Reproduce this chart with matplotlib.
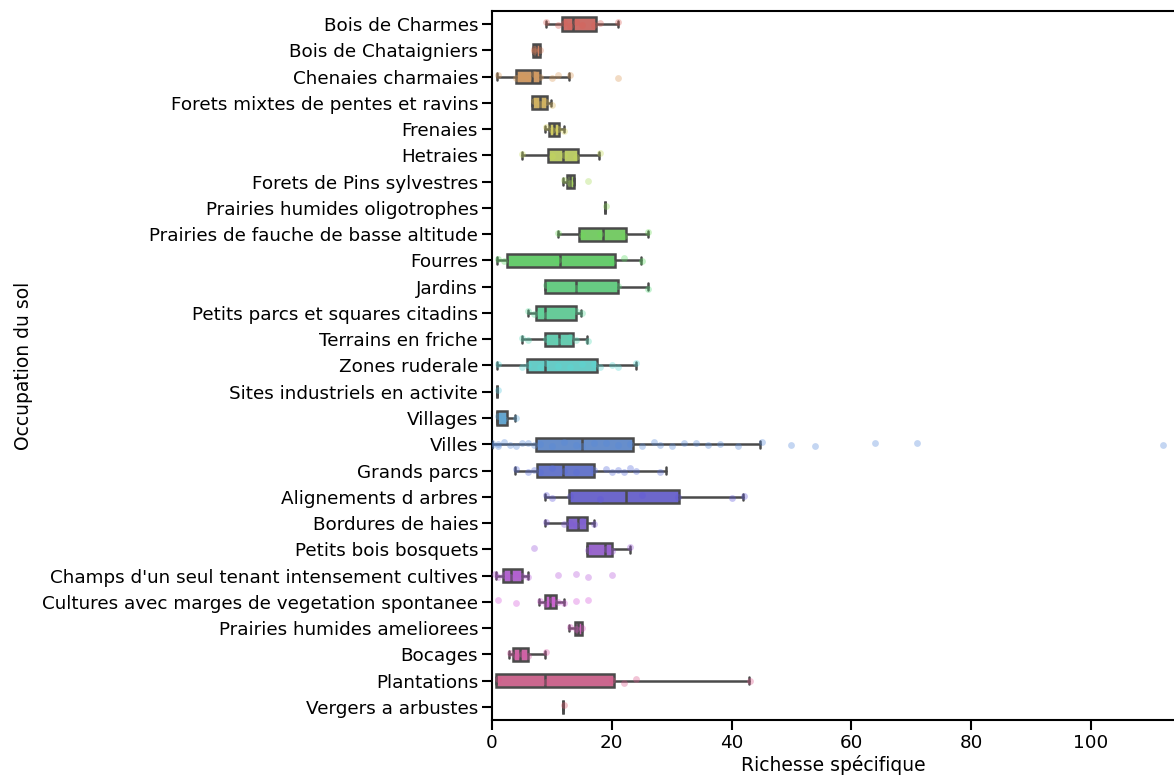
import numpy as np
import matplotlib.pyplot as plt
import seaborn as sns

sns.set_style("ticks")

categories = ["Bois de Charmes", "Bois de Chataigniers", "Chenaies charmaies",
              "Forets mixtes de pentes et ravins", "Frenaies", "Hetraies",
              "Forets de Pins sylvestres", "Prairies humides oligotrophes",
              "Prairies de fauche de basse altitude", "Fourres", "Jardins",
              "Petits parcs et squares citadins", "Terrains en friche",
              "Zones ruderale", "Sites industriels en activite", "Villages",
              "Villes", "Grands parcs", "Alignements d arbres",
              "Bordures de haies", "Petits bois bosquets",
              "Champs d'un seul tenant intensement cultives",
              "Cultures avec marges de vegetation spontanee",
              "Prairies humides ameliorees", "Bocages", "Plantations",
              "Vergers a arbustes"]

# box statistics
whislo = [9, 6.8, 0.8, 6.7, 8.8, 5, 11.9, 18.9, 11, 0.8, 8.8, 6, 5, 0.8, 0.8,
          0.8, 0, 3.9, 8.9, 8.9, 15.8, 0.7, 7.9, 12.9, 2.9, 0.7, 11.9]
q1 = [11.7, 6.8, 4.1, 6.7, 9.6, 9.4, 12.6, 18.9, 14.6, 2.6, 8.8, 7.3, 8.8, 5.8,
      0.8, 0.8, 7.4, 7.5, 12.8, 12.5, 15.8, 1.9, 8.9, 13.9, 3.6, 0.7, 11.9]
med = [13.5, 7.3, 6.7, 8.0, 10.4, 11.9, 13.0, 18.9, 18.5, 11.4, 14.0, 8.9, 11.2,
       8.9, 0.8, 0.8, 15.0, 11.9, 22.4, 14.3, 18.9, 3.2, 9.7, 14.4, 4.7, 8.9, 11.9]
q3 = [17.3, 8.1, 8.1, 9.2, 11.2, 14.3, 13.7, 18.9, 22.3, 20.5, 21.0, 14.1, 13.5,
      17.5, 0.8, 2.5, 23.5, 17.1, 31.3, 15.8, 20.0, 5.1, 10.7, 15.0, 6.0, 20.4, 11.9]
whishi = [21, 8.1, 12.9, 9.9, 12, 17.9, 13.7, 18.9, 26, 24.9, 26, 14.9, 15.9,
          24, 0.8, 3.9, 44.7, 29, 41.9, 17.1, 23, 6.1, 12, 15, 8.9, 42.9, 11.9]

# individual observations visible as points
points = [
    [9, 11, 12, 13, 14, 15, 17, 18, 21],
    [7, 7, 8],
    [1, 4, 5, 6, 7, 8, 10, 11, 13, 21],
    [7, 8, 9, 10],
    [9, 10, 11, 12],
    [5, 10, 12, 14, 18],
    [12, 13, 16],
    [19],
    [11, 15, 18, 22, 26],
    [1, 2, 11, 20, 22, 25],
    [9, 14, 21, 26],
    [6, 7, 8, 9, 14, 15],
    [5, 6, 9, 11, 13, 14, 16],
    [1, 5, 6, 8, 9, 11, 13, 15, 17, 18, 20, 21, 24],
    [1],
    [1, 2, 4],
    [0, 0, 1, 1, 2, 3, 4, 5, 6, 7, 8, 10, 12, 14, 15, 17, 19, 21, 23, 25, 27,
     28, 30, 32, 34, 36, 38, 41, 45, 50, 54, 64, 71, 112],
    [4, 6, 7, 8, 10, 12, 14, 17, 19, 20, 21, 22, 23, 24, 28],
    [9, 10, 13, 18, 25, 31, 40, 42],
    [9, 12, 13, 14, 15, 17],
    [7, 16, 19, 20, 23],
    [0.5, 1, 2, 3, 4, 5, 6, 11, 14, 16, 20],
    [1, 4, 8, 9, 10, 11, 12, 14, 16],
    [13, 14, 15],
    [3, 4, 5, 6, 9],
    [1, 9, 20, 22, 24, 43],
    [12],
]

colors = sns.color_palette("hls", len(categories))
box_colors = [sns.desaturate(c, 0.75) for c in colors]
line_col = "#4a4a4a"

fig = plt.figure(figsize=(11.74, 7.76), dpi=100)
ax = fig.add_axes([0.419, 0.072, 0.5818, 0.914])

stats = []
for i, name in enumerate(categories):
    stats.append(dict(label=name, whislo=whislo[i], q1=q1[i], med=med[i],
                      q3=q3[i], whishi=whishi[i], fliers=[]))

pos = np.arange(len(categories))
bp = ax.bxp(stats, positions=pos, widths=0.5, vert=False, patch_artist=True,
            showfliers=False,
            boxprops=dict(edgecolor=line_col, linewidth=1.8),
            whiskerprops=dict(color=line_col, linewidth=1.8),
            capprops=dict(color=line_col, linewidth=1.8),
            medianprops=dict(color=line_col, linewidth=1.8))
for patch, c in zip(bp["boxes"], box_colors):
    patch.set_facecolor(c)

# small fixed jitter pattern for the points
jit = [-0.06, 0.04, -0.02, 0.07, -0.08, 0.02, 0.05, -0.04]
for i, vals in enumerate(points):
    yy = [i + jit[k % len(jit)] for k in range(len(vals))]
    ax.scatter(vals, yy, s=24, color=colors[i], alpha=0.35, linewidths=0,
               zorder=3)

ax.set_ylim(len(categories) - 0.5, -0.5)
ax.set_xlim(0, 114)
ax.set_yticks(pos)
ax.set_yticklabels(categories)
ax.set_xticks([0, 20, 40, 60, 80, 100])
ax.tick_params(axis="both", labelsize=13.2, length=7, width=1.5,
               colors="black", pad=3)
for s in ["left", "bottom", "top"]:
    ax.spines[s].set_linewidth(1.5)
    ax.spines[s].set_color("black")
ax.spines["right"].set_visible(False)
ax.set_xlabel("Richesse spécifique", fontsize=13.5, color="black", labelpad=2)
ax.set_ylabel("Occupation du sol", fontsize=13.5, color="black")
ax.yaxis.set_label_coords(-0.672, 0.5)

fig.savefig("out.png", dpi=100)
